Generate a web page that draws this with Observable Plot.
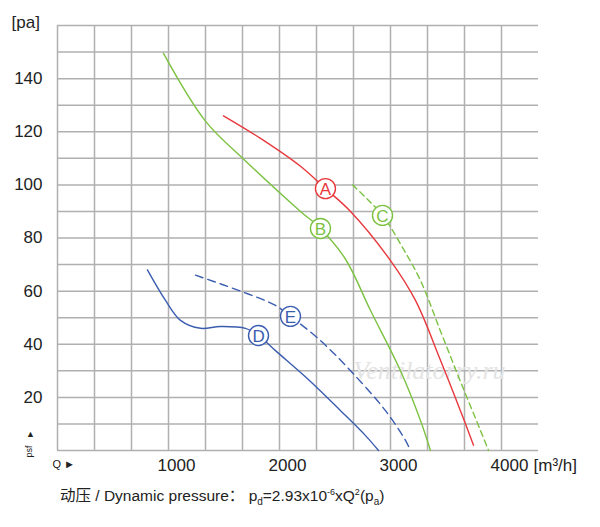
<!DOCTYPE html>
<html><head><meta charset="utf-8">
<script src="https://cdn.jsdelivr.net/npm/d3@7"></script>
<script src="https://cdn.jsdelivr.net/npm/@observablehq/plot@0.6"></script>
<style>body{margin:0;background:#fff;font-family:"Liberation Sans",Arial,sans-serif}
#cap{position:absolute;left:60px;top:483px;font-size:15.5px;color:#222;font-family:"Liberation Sans","Noto Sans CJK SC",sans-serif}</style>
</head><body><div id="chart"></div>
<div id="cap">动压 / Dynamic pressure：&nbsp;p<sub style="font-size:10px">d</sub>=2.93x10<sup style="font-size:9px">-6</sup>xQ<sup style="font-size:9px">2</sup>(p<sub style="font-size:10px">a</sub>)</div>
<script>
const xTicks = [1000, 2000, 3000, 4000];
const yTicks = [20, 40, 60, 80, 100, 120, 140];
const curveA = [[1495,126],[1829,117.5],[2189,107],[2414,98.6],[2640,90],[3000,71.5],[3225,56.5],[3450,34],[3630,15],[3748,2]];
const curveB = [[955,149.5],[1333,124],[1694,109],[2189,90],[2369,83.6],[2595,72],[2820,52.7],[3090,30],[3270,11.3],[3360,0]];
const curveC = [[2658,100],[2928,88.5],[3100,77],[3270,64],[3450,45],[3630,26],[3811,7.5],[3883,0]];
const curveD = [[810,68],[973,56.5],[1108,49],[1288,46],[1468,46.7],[1694,46],[1811,43.3],[1964,37.6],[2279,26],[2550,15],[2775,5.6],[2892,0]];
const curveE = [[1243,66],[1649,60],[1964,54.6],[2099,50.5],[2369,41.4],[2640,30],[2955,15],[3135,3.8],[3180,0]];
const labels = [
  {k:"A", x:2414, y:98.6, c:"#e8383d"},
  {k:"B", x:2369, y:83.6, c:"#7cc242"},
  {k:"C", x:2928, y:88.5, c:"#7cc242"},
  {k:"D", x:1811, y:43.3, c:"#3b5db0"},
  {k:"E", x:2099, y:50.5, c:"#3b5db0"}
];
const gx = d3.range(0, 13).map(i => i*1000/3);
const gy = d3.range(0, 161, 10);
const line = (data, c, dash) => Plot.line(data, {x:d=>d[0], y:d=>d[1], stroke:c, strokeWidth:1.4, curve:"catmull-rom", strokeDasharray:dash});
const plot = Plot.plot({
  width:600, height:480, marginLeft:57, marginRight:62, marginTop:25, marginBottom:30,
  x:{domain:[0,4000], range:[57, 501], axis:null},
  y:{domain:[0,160], axis:null},
  style:{overflow:"visible", fontFamily:"'Liberation Sans',Arial,sans-serif"},
  marks:[
    Plot.ruleX(gx, {stroke:"#b0b0b0", strokeWidth:1.5, y1:0, y2:160}),
    Plot.ruleY(gy, {stroke:"#b0b0b0", strokeWidth:1.5, x1:0, x2:4333.3}),
    Plot.text(["Ventilatorry.ru"], {x:3350, y:30, fill:"#e4e4e4", fontSize:26, fontStyle:"italic", fontFamily:"Liberation Serif,serif"}),
    line(curveD, "#3b5db0"),
    line(curveE, "#3b5db0", "8,5"),
    line(curveB, "#7cc242"),
    line(curveC, "#7cc242", "6,4"),
    line(curveA, "#e8383d"),
    Plot.dot(labels, {x:"x", y:"y", r:10, fill:"white", stroke:"c", strokeWidth:1.4}),
    Plot.text(labels, {x:"x", y:"y", text:"k", fill:"c", fontSize:17, dy:1}),
    Plot.text(yTicks, {x:0, y:d=>d, text:d=>String(d), textAnchor:"end", dx:-15, fontSize:17, fill:"#222"}),
    Plot.text(xTicks, {x:d=>d, y:0, text:d=>String(d), dx:8, dy:15, fontSize:17, fill:"#222"}),
    Plot.text(["[m³/h]"], {x:4000, y:0, dx:32, dy:15, textAnchor:"start", fontSize:17, fill:"#222"}),
    Plot.text(["[pa]"], {x:0, y:160, dx:-46, dy:-3, textAnchor:"start", fontSize:17, fill:"#222"}),
    Plot.text(["Q ►"], {x:0, y:0, dx:-5, dy:14, textAnchor:"start", fontSize:11, fill:"#222"}),
    Plot.text(["▲"], {x:0, y:0, dx:-27, dy:-16, fontSize:9, fill:"#222"}),
    Plot.text(["psf"], {x:0, y:0, dx:-28, dy:1, rotate:-90, fontSize:9, fill:"#222"})
  ]
});
document.getElementById("chart").appendChild(plot);
</script></body></html>
